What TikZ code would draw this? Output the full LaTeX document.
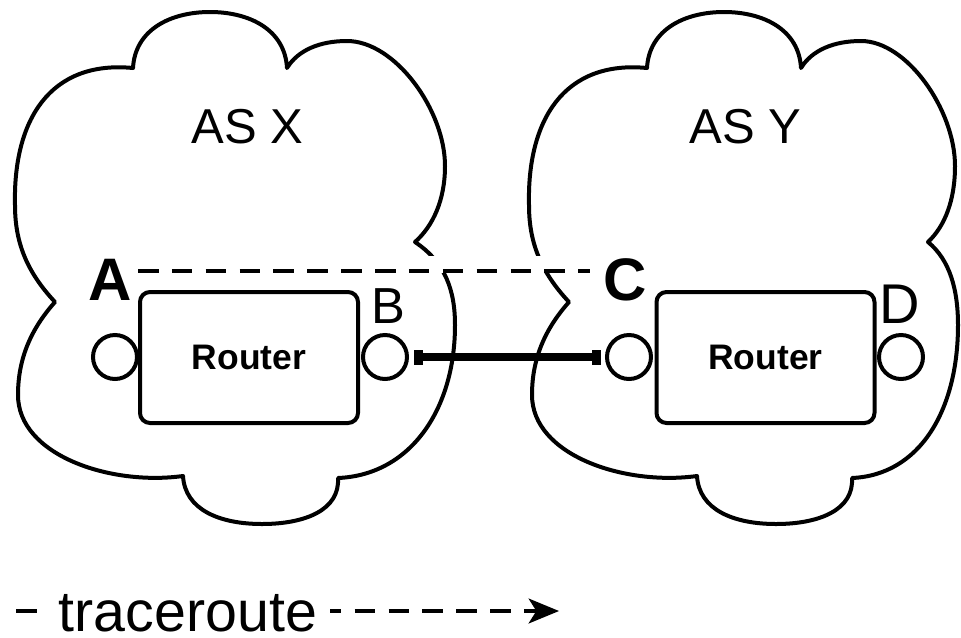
\documentclass[tikz,border=0pt]{standalone}
\usepackage{fontspec}
\setmainfont{Liberation Sans}
\usetikzlibrary{arrows.meta}

\begin{document}
\begin{tikzpicture}[x=0.75pt,y=-0.75pt,
  outline/.style={line width=3pt, line join=round},
  routerbox/.style={draw, line width=3pt, rounded corners=7.5pt,
    minimum width=163.5pt, minimum height=98.25pt, inner sep=0pt,
    font=\fontsize{26.6pt}{30pt}\selectfont\bfseries},
  port/.style={draw, circle, line width=3pt, minimum size=33pt, inner sep=0pt},
  asname/.style={font=\fontsize{36.75pt}{42pt}\selectfont, inner sep=0pt, anchor=base},
  ifname/.style={font=\fontsize{38pt}{44pt}\selectfont, inner sep=0pt, anchor=base},
  hopname/.style={font=\fontsize{45pt}{50pt}\selectfont\bfseries, inner sep=0pt, anchor=base},
  tracedash/.style={line width=3pt, dash pattern=on 15.4pt off 10pt},
  link/.style={line width=6pt,
    {Square[length=6.75pt,width=11.25pt,line width=0pt]}-{Square[length=6.75pt,width=11.25pt,line width=0pt]}}
]
\useasboundingbox (0,0) rectangle (961,637);

% cloud of AS X
\draw[outline]
  (133,68) .. controls (135,30) and (170,12) .. (210,12)
  .. controls (250,12) and (285,30) .. (287,68)
  .. controls (298,50) and (320,41) .. (347,41)
  .. controls (395,41) and (445,110) .. (445,166)
  .. controls (445,200) and (433,226) .. (415,242)
  .. controls (445,262) and (455,290) .. (455,325)
  .. controls (455,410) and (410,475) .. (338,478)
  .. controls (340,510) and (305,524) .. (262,524)
  .. controls (220,524) and (185,510) .. (183,476)
  .. controls (110,486) and (18,455) .. (18,395)
  .. controls (18,360) and (30,330) .. (55,302)
  .. controls (25,270) and (15,240) .. (15,205)
  .. controls (13,120) and (50,60) .. (133,68) -- cycle;

% cloud of AS Y
\draw[outline]
  (647,68) .. controls (649,30) and (684,12) .. (724,12)
  .. controls (764,12) and (799,30) .. (801,68)
  .. controls (812,50) and (834,41) .. (861,41)
  .. controls (907,41) and (955,110) .. (955,166)
  .. controls (955,200) and (945,226) .. (928,242)
  .. controls (950,260) and (958,290) .. (958,325)
  .. controls (958,410) and (920,475) .. (852,478)
  .. controls (854,510) and (819,524) .. (776,524)
  .. controls (734,524) and (699,510) .. (697,476)
  .. controls (624,486) and (532,455) .. (532,395)
  .. controls (532,360) and (544,330) .. (569,302)
  .. controls (539,270) and (529,240) .. (529,205)
  .. controls (527,120) and (564,60) .. (647,68) -- cycle;

% labels of the two systems
\node[asname] (asx) at (247.5,143) {AS X};
\node[asname] (asy) at (745.5,143) {AS Y};

% traceroute hop from A to C, cutting through the cloud outlines
\fill[white] (138,256) rectangle (590,273);
\coordinate (hopA) at (138,271);
\coordinate (hopC) at (590,271);
\draw[tracedash] (hopA) -- (hopC);

% routers
\node[routerbox] (rx) at (249,357.5) {Router};
\node[routerbox] (ry) at (765.5,357.5) {Router};

% interfaces
\node[port] (pA) at (115,357) {};
\node[port] (pB) at (385,357) {};
\node[port] (pC) at (629,357) {};
\node[port] (pD) at (901,357) {};

% interface names
\node[hopname] (lA) at (110,300) {A};
\node[ifname]  (lB) at (388.5,323) {B};
\node[hopname] (lC) at (625,300) {C};
\node[ifname,font=\fontsize{42pt}{48pt}\selectfont] (lD) at (900,323) {D};

% inter-domain link
\draw[link, shorten <=3.75pt, shorten >=3pt] (pB) -- (pC);

% legend
\coordinate (lg0) at (16,611);
\coordinate (lg1) at (559,611);
\draw[tracedash, -{Stealth[length=23pt,width=19pt,inset=6pt,line width=0pt]}] (lg0) -- (lg1);
\node[fill=white, inner xsep=9.75pt, inner ysep=0pt, anchor=base,
  font=\fontsize{43pt}{48pt}\selectfont] (legend) at (188,631) {traceroute};
\end{tikzpicture}
\end{document}
